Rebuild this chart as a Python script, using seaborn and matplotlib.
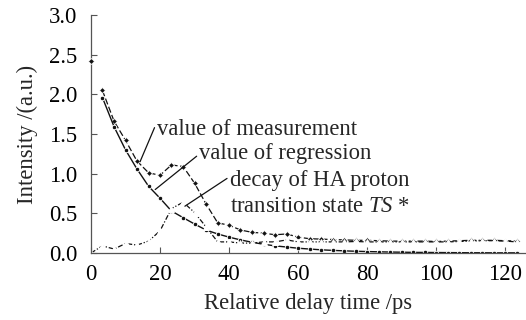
import numpy as np
import matplotlib
matplotlib.use("Agg")
import matplotlib.pyplot as plt
import seaborn as sns

# ---- data ----
time = [3.3, 6.7, 10, 13.3, 16.7, 20, 23.3, 26.7, 30, 33.3, 36.7, 40, 43.3, 46.7,
        50, 53.3, 56.7, 60, 63.3, 66.7, 70, 73.3, 76.7, 80, 83.3, 86.7, 90, 93.3,
        96.7, 100, 103.3, 106.7, 110, 113.3, 116.7, 120, 123.3]
measurement = [2.05, 1.66, 1.42, 1.16, 1.01, 0.98, 1.11, 1.09, 0.88, 0.62, 0.38, 0.35,
               0.29, 0.26, 0.25, 0.23, 0.24, 0.20, 0.18, 0.175, 0.17, 0.165, 0.16, 0.16,
               0.155, 0.15, 0.15, 0.15, 0.15, 0.145, 0.15, 0.155, 0.16, 0.16, 0.16, 0.155, 0.15]
measurement_t0 = [0.0]
measurement_v0 = [2.42]
regression = [1.96, 1.59, 1.30, 1.06, 0.84, 0.69, 0.53, 0.445, 0.365, 0.29, 0.24, 0.20,
              0.165, 0.135, 0.11, 0.09, 0.075, 0.06, 0.05, 0.04, 0.033, 0.027, 0.022, 0.018,
              0.015, 0.012, 0.01, 0.008, 0.007, 0.006, 0.005, 0.004, 0.003, 0.003, 0.002,
              0.002, 0.002]
ts_time = [0.0] + time
ts_decay = [0.0, 0.09, 0.05, 0.12, 0.10, 0.15, 0.28, 0.56, 0.64, 0.51, 0.33, 0.14, 0.14,
            0.125, 0.125, 0.14, 0.14, 0.165, 0.14, 0.14, 0.14, 0.14, 0.14, 0.145, 0.14,
            0.14, 0.14, 0.14, 0.14, 0.14, 0.14, 0.14, 0.145, 0.15, 0.155, 0.155, 0.15, 0.14]
xticks = [0, 20, 40, 60, 80, 100, 120]
yticks = [0.0, 0.5, 1.0, 1.5, 2.0, 2.5, 3.0]

sns.set_theme(style="ticks")
plt.rcParams["font.family"] = ["Liberation Serif", "DejaVu Serif"]
plt.rcParams["mathtext.fontset"] = "custom"
plt.rcParams["mathtext.it"] = "Liberation Serif:italic"
plt.rcParams["mathtext.rm"] = "Liberation Serif"

FS = 16.3
fig = plt.figure(figsize=(5.26, 3.2), dpi=100)
ax = fig.add_axes([91 / 526, 1 - 253 / 320, 1 - 91 / 526, (253 - 15) / 320])

lc = "#111111"
sns.lineplot(x=time, y=measurement, ax=ax, color=lc, lw=0.9,
             linestyle=(0, (5, 2)), marker="D", markersize=3, markeredgewidth=0.6)
sns.scatterplot(x=measurement_t0, y=measurement_v0, ax=ax, color=lc, marker="D",
                s=9, linewidth=0.5, clip_on=False, zorder=5)
sns.lineplot(x=time, y=regression, ax=ax, color=lc, lw=1.0, marker="o",
             markersize=3.2, markeredgewidth=0.6)
sns.lineplot(x=ts_time, y=ts_decay, ax=ax, color=lc, lw=0.9,
             linestyle=(0, (4, 1.5, 1, 1.5)), marker="^", markersize=4,
             markerfacecolor="white", markeredgewidth=0.7, clip_on=False)

# annotations
def lead(p_from, p_to):
    ax.annotate("", xy=p_to, xytext=p_from,
                arrowprops=dict(arrowstyle="-", color=lc, lw=0.9,
                                shrinkA=0, shrinkB=0))

ax.text(19.1, 1.485, "value of measurement", fontsize=FS, va="baseline", ha="left")
lead((18.4, 1.58), (14.2, 1.15))
ax.text(31.3, 1.18, "value of regression", fontsize=FS, va="baseline", ha="left")
lead((30.6, 1.22), (18.6, 0.80))
ax.text(40.3, 0.84, "decay of HA proton", fontsize=FS, va="baseline", ha="left")
ax.text(40.3, 0.52, "transition state $\\mathit{TS}$ *", fontsize=FS, va="baseline", ha="left")
lead((39.4, 0.94), (27.2, 0.59))

ax.set_xlim(0, 126)
ax.set_ylim(0, 3.0)
ax.set_xticks(xticks)
ax.set_yticks(yticks)
ax.set_yticklabels([f"{v:.1f}" for v in yticks])
ax.tick_params(direction="in", length=4, width=0.8, color="#555555",
               labelsize=FS, labelcolor="black")
ax.tick_params(axis="y", pad=10)
ax.tick_params(axis="x", pad=8)
sns.despine(ax=ax)
for s in ("left", "bottom"):
    ax.spines[s].set_color("#555555")
    ax.spines[s].set_linewidth(0.9)
ax.set_xlabel("Relative delay time /ps", fontsize=FS, labelpad=6)
ax.set_ylabel("Intensity /(a.u.)", fontsize=FS, labelpad=8)

fig.savefig("out.png", dpi=100)
